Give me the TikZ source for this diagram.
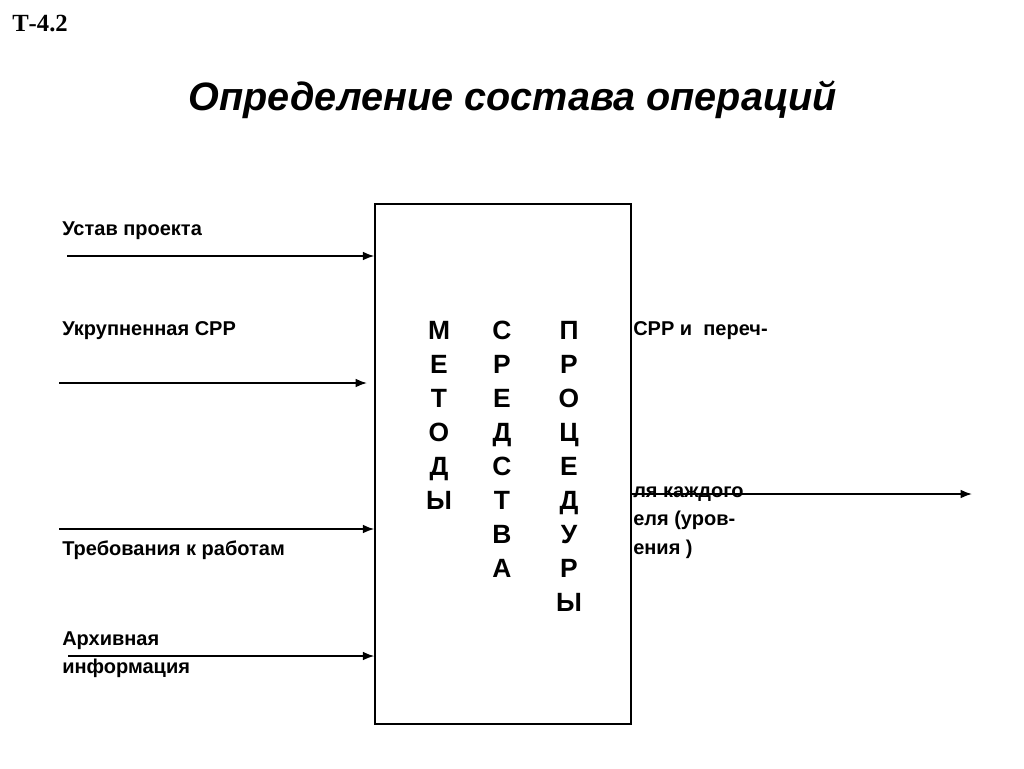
\documentclass[tikz,border=0pt]{standalone}
\usepackage{fontspec}
\setmainfont{Liberation Sans}
\newfontfamily\serifbold{Liberation Serif}
\usetikzlibrary{arrows.meta}
\begin{document}
\begin{tikzpicture}[x=0.75pt,y=-0.75pt,
  lbl/.style={font=\fontsize{15}{17}\selectfont\bfseries, anchor=base west, inner sep=0pt},
  ltr/.style={font=\fontsize{19.8}{22}\selectfont\bfseries, anchor=base, inner sep=0pt},
  arr/.style={line width=1.2pt, -{Latex[length=8.5pt,width=6.5pt]}},
  mainbox/.style={draw, line width=1.1pt, fill=white, minimum width=192pt, minimum height=390pt, inner sep=0pt}]
\useasboundingbox (0,0) rectangle (1024,768);
% header
\node[anchor=base west, inner sep=0pt, font=\serifbold\fontsize{18.5}{20}\selectfont\bfseries] (tag) at (12,31) {Т-4.2};
\node[anchor=base, inner sep=0pt, font=\fontsize{29.7}{34}\selectfont\bfseries\itshape] (title) at (513,110) {Определение состава операций};
% main box
\node[mainbox] (box) at (503,464) {};
% letters
\foreach \t [count=\i] in {М,Е,Т,О,Д,Ы}
  \node[ltr] (m\i) at (439,{339+34*(\i-1)}) {\t};
\foreach \t [count=\i] in {С,Р,Е,Д,С,Т,В,А}
  \node[ltr] (s\i) at (502,{339+34*(\i-1)}) {\t};
\foreach \t [count=\i] in {П,Р,О,Ц,Е,Д,У,Р,Ы}
  \node[ltr] (p\i) at (569,{339+34*(\i-1)}) {\t};
% left labels
\node[lbl] (l1) at (62,235) {Устав проекта};
\node[lbl] (l2) at (62,335) {Укрупненная СРР};
\node[lbl] (l3) at (62,555) {Требования к работам};
\node[lbl] (l4) at (62,645) {Архивная};
\node[lbl] (l5) at (62,673) {информация};
% right labels (visible parts)
\node[lbl] (r1) at (633,335) {СРР и\ \ переч-};
\node[lbl] (r2) at (633,497) {ля каждого};
\node[lbl] (r3) at (633,525) {еля (уров-};
\node[lbl] (r4) at (633,554) {ения )};
% arrows
\coordinate (a1) at (67,256);
\coordinate (a2) at (59,383);
\coordinate (b2) at (367,383);
\coordinate (a3) at (59,529);
\coordinate (a4) at (68,656);
\coordinate (o5) at (972,494);
\draw[arr] (a1) -- (a1 -| box.west);
\draw[arr] (a2) -- (b2);
\draw[arr] (a3) -- (a3 -| box.west);
\draw[arr] (a4) -- (a4 -| box.west);
\draw[arr] (o5 -| box.east) -- (o5);
\end{tikzpicture}
\end{document}
